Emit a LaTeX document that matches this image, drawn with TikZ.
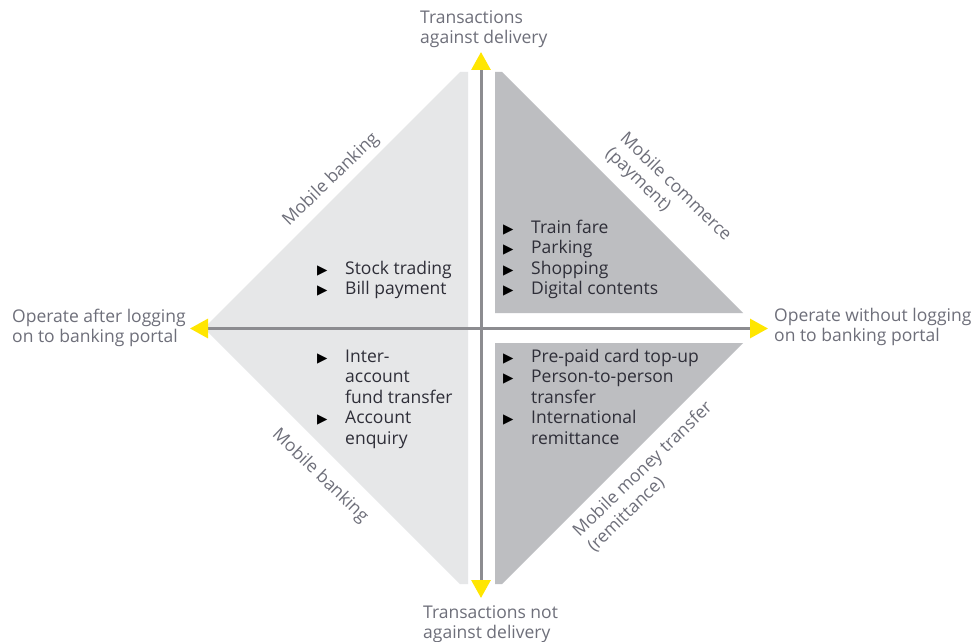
\documentclass[tikz,border=0pt]{standalone}
\usepackage{fontspec}
\setmainfont{Open Sans}
\newfontfamily\dejavu{DejaVu Sans}
\usetikzlibrary{arrows.meta}
\definecolor{quadlight}{HTML}{E6E7E8}
\definecolor{quaddark}{HTML}{BDBEC1}
\definecolor{axisgray}{HTML}{8C8C90}
\definecolor{eyyellow}{HTML}{FFE600}
\definecolor{labelgray}{HTML}{6E6F7A}
\definecolor{itemtext}{HTML}{2E2E38}
\newcommand{\bul}{\makebox[28pt][l]{\color{black}\dejavu\fontsize{13.5}{13.5}\selectfont ▶}}
\begin{document}
\begin{tikzpicture}[x=1pt,y=-1pt,
  quadL/.style={fill=quadlight, draw=none},
  quadD/.style={fill=quaddark, draw=none},
  axisline/.style={draw=axisgray, line width=3pt,
    {Triangle[length=18pt,width=19pt,color=eyyellow]}-{Triangle[length=18pt,width=19pt,color=eyyellow]}},
  axlabel/.style={inner sep=0pt, anchor=base west, text=labelgray, font=\fontsize{17.5}{20}\selectfont},
  edgelabel/.style={inner sep=0pt, text=labelgray, font=\fontsize{17.5}{21}\selectfont, align=left},
  items/.style={inner sep=0pt, anchor=base west, text=itemtext, font=\fontsize{17.5}{20.5}\selectfont}]
\useasboundingbox (0,0) rectangle (975,642);
\fill[white] (0,0) rectangle (975,642);
% quadrants
\fill[quadL] (468,72) -- (460,72) -- (204,328) -- (460,584) -- (468,584) -- cycle;
\fill[quadD] (495,72) -- (502,72) -- (743,313) -- (495,313) -- cycle;
\fill[quadD] (495,343) -- (743,343) -- (502,584) -- (495,584) -- cycle;
% axes
\coordinate (N) at (481,52);
\coordinate (S) at (481,598);
\coordinate (W) at (190,328.5);
\coordinate (E) at (768,328.5);
\draw[axisline] (W) -- (E);
\draw[axisline] (S) -- (N);
% axis labels
\node[axlabel] (top) at (420,24) {\begin{tabular}[t]{@{}l@{}}Transactions\\against delivery\end{tabular}};
\node[axlabel] (bottom) at (423,618) {\begin{tabular}[t]{@{}l@{}}Transactions not\\against delivery\end{tabular}};
\node[axlabel] (left) at (12,322) {\begin{tabular}[t]{@{}l@{}}Operate after logging\\on to banking portal\end{tabular}};
\node[axlabel] (right) at (774,321) {\begin{tabular}[t]{@{}l@{}}Operate without logging\\on to banking portal\end{tabular}};
% edge labels
\node[edgelabel, rotate=44] (mbtop) at (331,180) {Mobile banking};
\node[edgelabel, rotate=-44] (mc) at (668,195) {Mobile commerce\\(payment)};
\node[edgelabel, rotate=-44] (mbbot) at (320,476) {Mobile banking};
\node[edgelabel, rotate=44] (mm) at (650,477) {Mobile money transfer\\(remittance)};
% items
\node[items] (tl) at (317,274) {\begin{tabular}[t]{@{}l@{}l@{}}\bul&Stock trading\\\bul&Bill payment\end{tabular}};
\node[items] (tr) at (503,233) {\begin{tabular}[t]{@{}l@{}l@{}}\bul&Train fare\\\bul&Parking\\\bul&Shopping\\\bul&Digital contents\end{tabular}};
\node[items] (bl) at (317,362) {\begin{tabular}[t]{@{}l@{}l@{}}\bul&Inter-\\&account\\&fund transfer\\\bul&Account\\&enquiry\end{tabular}};
\node[items] (br) at (503,362) {\begin{tabular}[t]{@{}l@{}l@{}}\bul&Pre-paid card top-up\\\bul&Person-to-person\\&transfer\\\bul&International\\&remittance\end{tabular}};
\end{tikzpicture}
\end{document}
